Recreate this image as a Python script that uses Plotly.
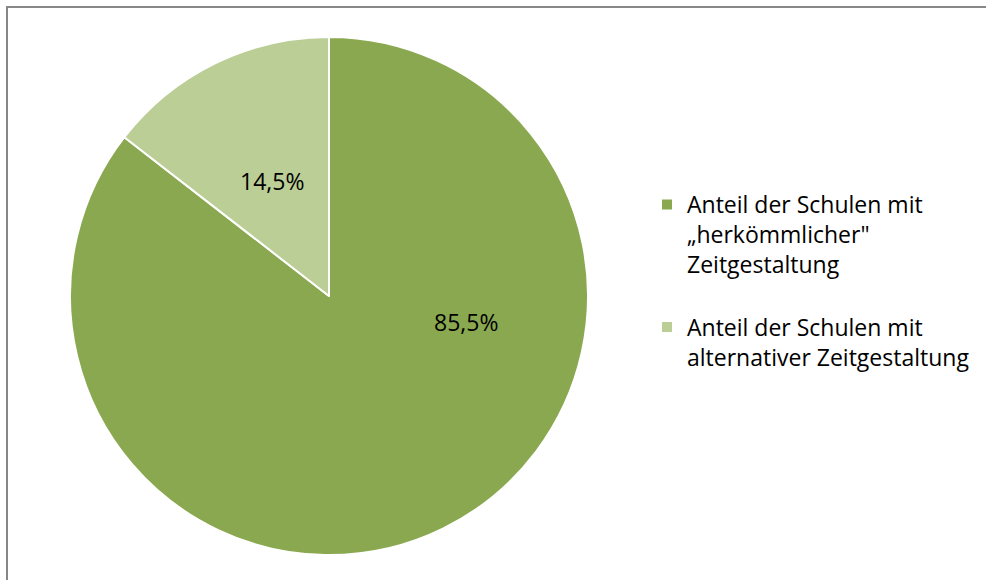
import plotly.graph_objects as go

labels = ["Anteil der Schulen mit<br>„herkömmlicher\"<br>Zeitgestaltung<br> ",
          "Anteil der Schulen mit<br>alternativer Zeitgestaltung"]
values = [85.5, 14.5]
value_text = ["85,5%", "14,5%"]
colors = ["#8AA84F", "#BACE95"]

W, H = 986, 580
cx, cy, r = 329, 296, 259

fig = go.Figure(go.Pie(
    labels=labels,
    values=values,
    textinfo="none",
    marker=dict(colors=colors, line=dict(color="#FFFFFF", width=2)),
    sort=False,
    direction="clockwise",
    rotation=0,
    domain=dict(x=[(cx - r) / W, (cx + r) / W],
                y=[(H - cy - r) / H, (H - cy + r) / H]),
    hoverinfo="skip",
))

label_pos = [(466, 322), (272, 181)]
annotations = [dict(x=px / W, y=1 - py / H, xref="paper", yref="paper",
                    text=t, showarrow=False, xanchor="center", yanchor="middle",
                    font=dict(family="Open Sans", size=23, color="#000000"))
               for t, (px, py) in zip(value_text, label_pos)]

fig.update_layout(
    width=W, height=H,
    margin=dict(l=0, r=0, t=0, b=0),
    paper_bgcolor="#FFFFFF",
    showlegend=True,
    legend=dict(
        x=647 / W, y=1 - 183 / H, xanchor="left", yanchor="top",
        font=dict(family="Open Sans", size=23, color="#000000"),
        valign="top",
        itemwidth=30,
        bgcolor="rgba(0,0,0,0)",
    ),
    annotations=annotations,
    shapes=[dict(type="rect", xref="paper", yref="paper",
                 x0=7 / W, x1=1.02, y0=-0.02, y1=1 - 7 / H,
                 line=dict(color="#878787", width=2), layer="below")],
)

fig.write_html("out.html", config={"displayModeBar": False},
               post_script="document.body.style.margin='0';")
